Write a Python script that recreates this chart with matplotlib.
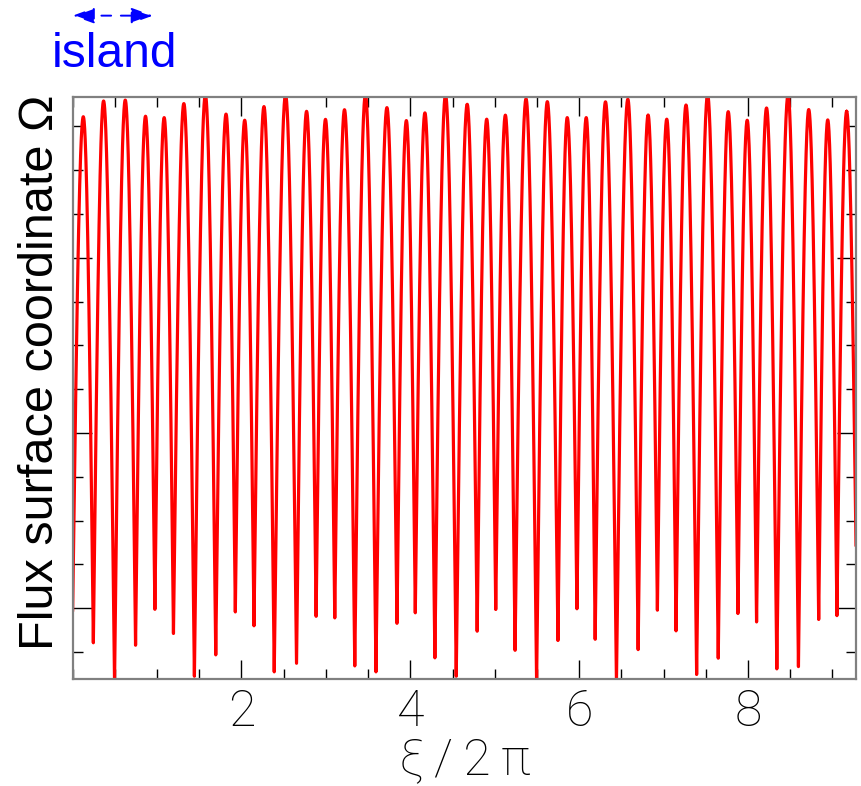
import numpy as np
import matplotlib
matplotlib.use('Agg')
import matplotlib.pyplot as plt
from matplotlib.ticker import MultipleLocator

# curve extrema (x in xi/2pi, y in arbitrary units)
start = (0.0, -0.01)
peak_x = [0.126, 0.366, 0.623, 0.863, 1.084, 1.317, 1.572, 1.817, 2.038, 2.266,
          2.522, 2.771, 2.995, 3.220, 3.468, 3.723, 3.953, 4.173, 4.417, 4.674,
          4.905, 5.126, 5.371, 5.623, 5.859, 6.084, 6.312, 6.577, 6.817, 7.038,
          7.266, 7.522, 7.766, 7.991, 8.220, 8.475, 8.720, 8.945, 9.169]
peak_y = [2.805, 2.895, 2.900, 2.808, 2.800, 2.880, 2.930, 2.820, 2.785, 2.863,
          2.930, 2.836, 2.790, 2.845, 2.930, 2.857, 2.783, 2.827, 2.930, 2.876,
          2.791, 2.814, 2.907, 2.891, 2.800, 2.800, 2.890, 2.905, 2.815, 2.791,
          2.872, 2.930, 2.834, 2.785, 2.855, 2.930, 2.846, 2.787, 2.836]
trough_x = [0.245, 0.496, 0.745, 0.974, 1.194, 1.442, 1.695, 1.927, 2.148, 2.388,
            2.652, 2.884, 3.105, 3.342, 3.593, 3.842, 4.059, 4.291, 4.544, 4.792,
            5.012, 5.241, 5.496, 5.749, 5.974, 6.190, 6.442, 6.699, 6.927, 7.148,
            7.392, 7.648, 7.881, 8.102, 8.342, 8.598, 8.838, 9.054]
trough_y = [-0.197, -0.42, -0.211, -0.006, -0.144, -0.388, -0.266, -0.021, -0.100, -0.363,
            -0.314, -0.046, -0.055, -0.329, -0.363, -0.086, -0.026, -0.283, -0.388, -0.131,
            -0.007, -0.240, -0.42, -0.184, -0.003, -0.177, -0.42, -0.236, -0.011, -0.129,
            -0.378, -0.285, -0.030, -0.078, -0.346, -0.333, -0.064, -0.042]
end = (9.28, 0.361)

x_ticks = [2, 4, 6, 8]


def build_curve():
    """Join the extrema with rounded tops and cusped bottoms"""
    nodes = [start]
    for i in range(len(peak_x)):
        nodes.append((peak_x[i], peak_y[i]))
        if i < len(trough_x):
            nodes.append((trough_x[i], trough_y[i]))
    nodes.append(end)

    xs, ys = [], []
    t = np.linspace(0, 1, 60)
    for (xa, ya), (xb, yb) in zip(nodes[:-1], nodes[1:]):
        if yb > ya:
            y = ya + (yb - ya) * np.sin(np.pi / 2 * t)
        else:
            y = yb + (ya - yb) * np.cos(np.pi / 2 * t)
        xs.append(xa + (xb - xa) * t)
        ys.append(y)
    return np.concatenate(xs), np.concatenate(ys)


fig = plt.figure(figsize=(8.61, 7.86), dpi=100)
ax = fig.add_axes([0.0844, 0.1361, 0.9098, 0.741])

x, y = build_curve()
ax.plot(x, y, color='red', linewidth=2.3)

ax.set_xlim(0, 9.28)
ax.set_ylim(-0.404, 2.92)

ax.xaxis.set_major_locator(MultipleLocator(2))
ax.xaxis.set_minor_locator(MultipleLocator(0.5))
ax.yaxis.set_major_locator(MultipleLocator(1))
ax.yaxis.set_minor_locator(MultipleLocator(0.25))
ax.set_xticks(x_ticks)
ax.set_xticklabels([str(v) for v in x_ticks], family='Roboto', fontweight=100,
                   fontsize=36)
ax.tick_params(which='both', direction='in', top=True, right=True,
               color='black', width=1.0, labelleft=False)
ax.tick_params(which='major', length=14, pad=7)
ax.tick_params(which='minor', length=7)

for side in ax.spines.values():
    side.set_color('#808080')
    side.set_linewidth(1.6)

ax.set_xlabel('\u03be\u2009/\u20092\u2009\u03c0', family='Roboto', fontweight=100,
              fontsize=36, labelpad=0)
fig.text(0.047, 0.527, 'Flux surface coordinate \u03a9', rotation=90,
         family='Liberation Sans', fontsize=35, ha='center', va='center')

# island width marker
trans = ax.get_xaxis_transform()
ax.annotate('', xy=(0.0, 1.139), xytext=(0.95, 1.139), xycoords=trans,
            textcoords=trans,
            arrowprops=dict(arrowstyle='<|-|>,head_length=0.55,head_width=0.2',
                            color='blue', lw=1.4, linestyle=(0, (5, 5)),
                            mutation_scale=24, shrinkA=0, shrinkB=0),
            annotation_clip=False)
ax.text(0.49, 1.051, 'island', transform=trans, color='blue',
        family='Liberation Sans', fontsize=34.5, ha='center', va='baseline')

fig.savefig('out.png', dpi=100)
